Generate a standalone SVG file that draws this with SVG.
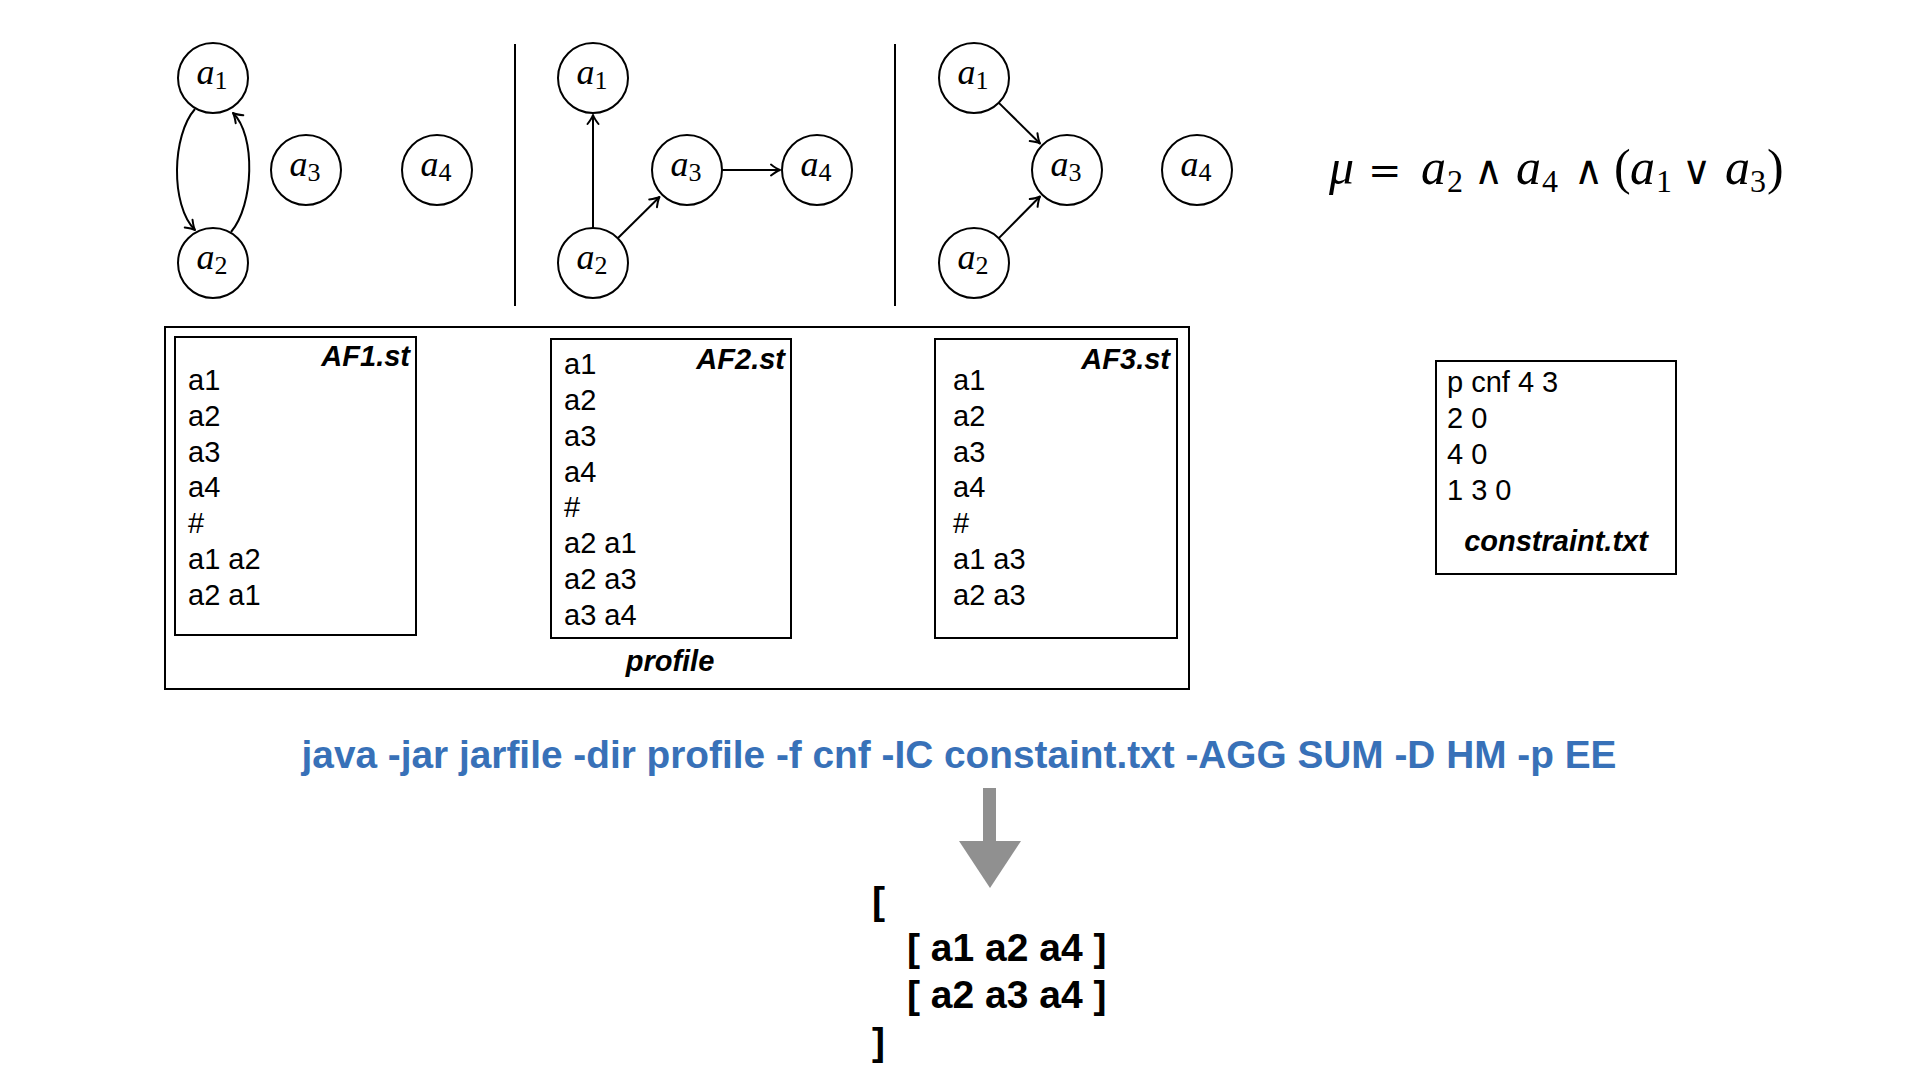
<svg xmlns="http://www.w3.org/2000/svg" width="1920" height="1080" viewBox="0 0 1920 1080">
<style>
.n circle{fill:#fff;stroke:#000;stroke-width:2}
.lbl{font-family:"Liberation Serif","DejaVu Serif",serif;font-style:italic;font-size:36px;text-anchor:middle;fill:#000}
.sub{font-style:normal;font-size:26px}
.edge{fill:none;stroke:#000;stroke-width:2;marker-end:url(#arr)}
.div{stroke:#000;stroke-width:2}
.box{fill:none;stroke:#000;stroke-width:2}
.txt{font-family:"Liberation Sans",Arial,sans-serif;font-size:29px;fill:#000}
.ttl{font-weight:bold;font-style:italic}
.cmd{font-family:"Liberation Sans",Arial,sans-serif;fill:#3871B8;font-weight:bold;font-size:38.8px;text-anchor:middle}
.res{font-family:"Liberation Sans",Arial,sans-serif;font-weight:bold;font-size:39px;fill:#000}
.math{font-family:"Liberation Serif","DejaVu Serif",serif;font-size:50px;fill:#000}
.mi{font-style:italic}
.ms{font-size:32px}
.op{font-family:"DejaVu Serif","Liberation Serif",serif;font-size:40px}
</style>
<defs>
<marker id="arr" viewBox="-11 -7 13 14" refX="0" refY="0" markerWidth="13" markerHeight="14" orient="auto" markerUnits="userSpaceOnUse">
<path d="M-9,-5.5 Q-3.5,-1.2 0,0 Q-3.5,1.2 -9,5.5" fill="none" stroke="#000" stroke-width="2" stroke-linecap="round" stroke-linejoin="round"/>
</marker>
</defs>
<rect width="1920" height="1080" fill="#fff"/>

<!-- dividers -->
<line class="div" x1="515" y1="44" x2="515" y2="306"/>
<line class="div" x1="895" y1="44" x2="895" y2="306"/>

<!-- connectors -->
<g id="connectors">
<path class="edge" d="M195,109 C172,135 170,205 195,230"/>
<path class="edge" d="M231,232 C254,205 256,135 233,113"/>
<path class="edge" d="M593,228 L593,115"/>
<path class="edge" d="M618,238 L659.5,197"/>
<path class="edge" d="M722,170 L780,170"/>
<path class="edge" d="M998.6,102.6 L1040,143.5"/>
<path class="edge" d="M998.6,238.4 L1040,196.5"/>
</g>

<!-- graph 1 -->
<g id="g1-a1" class="n"><circle cx="213" cy="78" r="35"/><text class="lbl" x="212" y="84">a<tspan class="sub" dy="5">1</tspan></text></g>
<g id="g1-a2" class="n"><circle cx="213" cy="263" r="35"/><text class="lbl" x="212" y="269">a<tspan class="sub" dy="5">2</tspan></text></g>
<g id="g1-a3" class="n"><circle cx="306" cy="170" r="35"/><text class="lbl" x="305" y="176">a<tspan class="sub" dy="5">3</tspan></text></g>
<g id="g1-a4" class="n"><circle cx="437" cy="170" r="35"/><text class="lbl" x="436" y="176">a<tspan class="sub" dy="5">4</tspan></text></g>

<!-- graph 2 -->
<g id="g2-a1" class="n"><circle cx="593" cy="78" r="35"/><text class="lbl" x="592" y="84">a<tspan class="sub" dy="5">1</tspan></text></g>
<g id="g2-a2" class="n"><circle cx="593" cy="263" r="35"/><text class="lbl" x="592" y="269">a<tspan class="sub" dy="5">2</tspan></text></g>
<g id="g2-a3" class="n"><circle cx="687" cy="170" r="35"/><text class="lbl" x="686" y="176">a<tspan class="sub" dy="5">3</tspan></text></g>
<g id="g2-a4" class="n"><circle cx="817" cy="170" r="35"/><text class="lbl" x="816" y="176">a<tspan class="sub" dy="5">4</tspan></text></g>

<!-- graph 3 -->
<g id="g3-a1" class="n"><circle cx="974" cy="78" r="35"/><text class="lbl" x="973" y="84">a<tspan class="sub" dy="5">1</tspan></text></g>
<g id="g3-a2" class="n"><circle cx="974" cy="263" r="35"/><text class="lbl" x="973" y="269">a<tspan class="sub" dy="5">2</tspan></text></g>
<g id="g3-a3" class="n"><circle cx="1067" cy="170" r="35"/><text class="lbl" x="1066" y="176">a<tspan class="sub" dy="5">3</tspan></text></g>
<g id="g3-a4" class="n"><circle cx="1197" cy="170" r="35"/><text class="lbl" x="1196" y="176">a<tspan class="sub" dy="5">4</tspan></text></g>

<!-- formula -->
<g id="formula">
<text class="math">
<tspan class="mi" x="1329" y="184">μ</tspan>
<tspan class="op" x="1368" y="184">=</tspan>
<tspan class="mi" x="1421" y="184">a</tspan><tspan class="ms" x="1447" y="192">2</tspan>
<tspan class="op" x="1474" y="184">∧</tspan>
<tspan class="mi" x="1516" y="184">a</tspan><tspan class="ms" x="1542" y="192">4</tspan>
<tspan class="op" x="1574" y="184">∧</tspan>
<tspan x="1614" y="184">(</tspan>
<tspan class="mi" x="1630" y="184">a</tspan><tspan class="ms" x="1656" y="192">1</tspan>
<tspan class="op" x="1682" y="184">∨</tspan>
<tspan class="mi" x="1725" y="184">a</tspan><tspan class="ms" x="1750" y="192">3</tspan>
<tspan x="1767" y="184">)</tspan>
</text>
</g>

<!-- profile -->
<g id="profile">
<rect class="box" x="165" y="327" width="1024" height="362"/>
<text class="txt ttl" x="670" y="671" text-anchor="middle">profile</text>
</g>

<g id="af1">
<rect class="box" x="175" y="337" width="241" height="298"/>
<text class="txt ttl" x="410" y="366" text-anchor="end">AF1.st</text>
<text class="txt"><tspan x="188" y="390">a1</tspan><tspan x="188" dy="35.8">a2</tspan><tspan x="188" dy="35.8">a3</tspan><tspan x="188" dy="35.8">a4</tspan><tspan x="188" dy="35.8">#</tspan><tspan x="188" dy="35.8">a1 a2</tspan><tspan x="188" dy="35.8">a2 a1</tspan></text>
</g>

<g id="af2">
<rect class="box" x="551" y="339" width="240" height="299"/>
<text class="txt ttl" x="785" y="369" text-anchor="end">AF2.st</text>
<text class="txt"><tspan x="564" y="374">a1</tspan><tspan x="564" dy="35.85">a2</tspan><tspan x="564" dy="35.85">a3</tspan><tspan x="564" dy="35.85">a4</tspan><tspan x="564" dy="35.85">#</tspan><tspan x="564" dy="35.85">a2 a1</tspan><tspan x="564" dy="35.85">a2 a3</tspan><tspan x="564" dy="35.85">a3 a4</tspan></text>
</g>

<g id="af3">
<rect class="box" x="935" y="339" width="242" height="299"/>
<text class="txt ttl" x="1170" y="369" text-anchor="end">AF3.st</text>
<text class="txt"><tspan x="953" y="390">a1</tspan><tspan x="953" dy="35.8">a2</tspan><tspan x="953" dy="35.8">a3</tspan><tspan x="953" dy="35.8">a4</tspan><tspan x="953" dy="35.8">#</tspan><tspan x="953" dy="35.8">a1 a3</tspan><tspan x="953" dy="35.8">a2 a3</tspan></text>
</g>

<!-- constraint -->
<g id="constraint">
<rect class="box" x="1436" y="361" width="240" height="213"/>
<text class="txt" font-size="30"><tspan x="1447" y="392">p cnf 4 3</tspan><tspan x="1447" dy="36">2 0</tspan><tspan x="1447" dy="36">4 0</tspan><tspan x="1447" dy="36">1 3 0</tspan></text>
<text class="txt ttl" font-size="30" x="1556" y="551" text-anchor="middle">constraint.txt</text>
</g>

<!-- command -->
<g id="command">
<text class="cmd" x="959" y="768">java -jar jarfile -dir profile -f cnf -IC constaint.txt -AGG SUM -D HM -p EE</text>
</g>

<!-- gray arrow -->
<g id="down-arrow">
<rect x="983" y="788" width="13" height="54" fill="#909090"/>
<polygon points="959,841 1021,841 990,888" fill="#909090"/>
</g>

<!-- result -->
<g id="result">
<text class="res" x="872" y="914">[</text>
<text class="res" x="907" y="961">[ a1 a2 a4 ]</text>
<text class="res" x="907" y="1008">[ a2 a3 a4 ]</text>
<text class="res" x="872" y="1055">]</text>
</g>
</svg>
